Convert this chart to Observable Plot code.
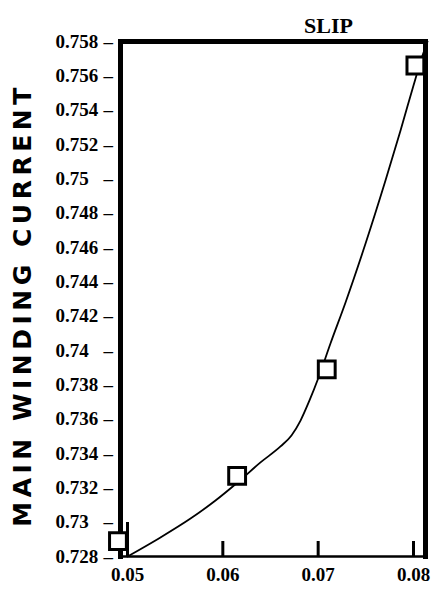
<!DOCTYPE html>
<html><head><meta charset="utf-8">
<script src="https://cdn.jsdelivr.net/npm/d3@7"></script>
<script src="https://cdn.jsdelivr.net/npm/@observablehq/plot@0.6"></script>
<style>body{margin:0;background:#fff} svg{display:block}</style>
</head><body><div id="chart"></div>
<script>
const title = "SLIP";
const yLabel = "MAIN WINDING CURRENT";
const xTicks = [0.05, 0.06, 0.07, 0.08];
const xTickLabels = ["0.05", "0.06", "0.07", "0.08"];
const yTicks = [0.728, 0.730, 0.732, 0.734, 0.736, 0.738, 0.740, 0.742, 0.744, 0.746, 0.748, 0.750, 0.752, 0.754, 0.756, 0.758];
const yTickLabels = ["0.728", "0.73", "0.732", "0.734", "0.736", "0.738", "0.74", "0.742", "0.744", "0.746", "0.748", "0.75", "0.752", "0.754", "0.756", "0.758"];
// measured points (squares)
const pointSlip = [0.0490, 0.0615, 0.0709, 0.0802];
const pointCurrent = [0.7289, 0.7327, 0.7389, 0.7566];
// fitted curve
const curveSlip = [0.05000, 0.05346, 0.05661, 0.05923, 0.06154, 0.06395, 0.06605, 0.06720, 0.06815, 0.06909, 0.07004, 0.07129, 0.07287, 0.07497, 0.07706, 0.07864, 0.08000, 0.08084, 0.08147];
const curveCurrent = [0.72800, 0.72911, 0.73021, 0.73126, 0.73231, 0.73348, 0.73441, 0.73505, 0.73592, 0.73709, 0.73843, 0.74041, 0.74280, 0.74623, 0.74990, 0.75282, 0.75544, 0.75701, 0.75800];

const serif = "'Liberation Serif', 'Times New Roman', serif";
const sans = "'DejaVu Sans', Arial, sans-serif";
const pts = pointSlip.map((s, i) => ({s, c: pointCurrent[i]}));
const crv = curveSlip.map((s, i) => ({s, c: curveCurrent[i]}));

const chart = Plot.plot({
  width: 435,
  height: 594,
  marginLeft: 120,
  marginRight: 10,
  marginTop: 41,
  marginBottom: 38,
  style: {background: "white"},
  x: {domain: [0.05, 0.08], range: [127, 413], axis: null},
  y: {domain: [0.728, 0.758], axis: null},
  marks: [
    Plot.frame({anchor: "top", strokeWidth: 5, stroke: "black"}),
    Plot.frame({anchor: "left", strokeWidth: 5, stroke: "black"}),
    Plot.frame({anchor: "right", strokeWidth: 5, stroke: "black"}),
    Plot.frame({anchor: "bottom", strokeWidth: 2.5, stroke: "black"}),
    Plot.tickX(xTicks.slice(1), {x: d => d, insetTop: 500, strokeWidth: 3, stroke: "black"}),
    Plot.tickX(xTicks.slice(0, 1), {x: d => d, insetTop: 481, strokeWidth: 3, stroke: "black"}),
    Plot.text(yTicks, {y: d => d, text: (d, i) => yTickLabels[i], frameAnchor: "left", dx: -65, textAnchor: "start",
      fontSize: 19, fontWeight: "bold", fontFamily: serif, fill: "black"}),
    Plot.text(yTicks, {y: d => d, text: () => "\u2013", frameAnchor: "left", dx: -17, textAnchor: "start",
      fontSize: 19, fontWeight: "bold", fontFamily: serif, fill: "black"}),
    Plot.text(xTicks, {x: d => d, text: (d, i) => xTickLabels[i], frameAnchor: "bottom", dy: 24,
      fontSize: 19, fontWeight: "bold", fontFamily: serif, fill: "black"}),
    Plot.text([title], {frameAnchor: "top", dx: 55.5, dy: -24, fontSize: 22, fontWeight: "bold", fontFamily: serif, fill: "black"}),
    Plot.text([yLabel], {frameAnchor: "left", textAnchor: "middle", dx: -98, dy: 6, rotate: -90, fontSize: 25, fontWeight: "bold", fontFamily: sans, fill: "black"}),
    Plot.line(crv, {x: "s", y: "c", curve: "monotone-x", stroke: "black", strokeWidth: 1.8}),
    Plot.dot(pts, {x: "s", y: "c", symbol: "square", r: 9.5, stroke: "black", strokeWidth: 3, fill: "white"})
  ]
});
d3.select(chart).selectAll("text").filter(function() { return this.textContent === yLabel; })
  .style("letter-spacing", "4.5px");
document.getElementById("chart").appendChild(chart);
</script>
</body></html>
